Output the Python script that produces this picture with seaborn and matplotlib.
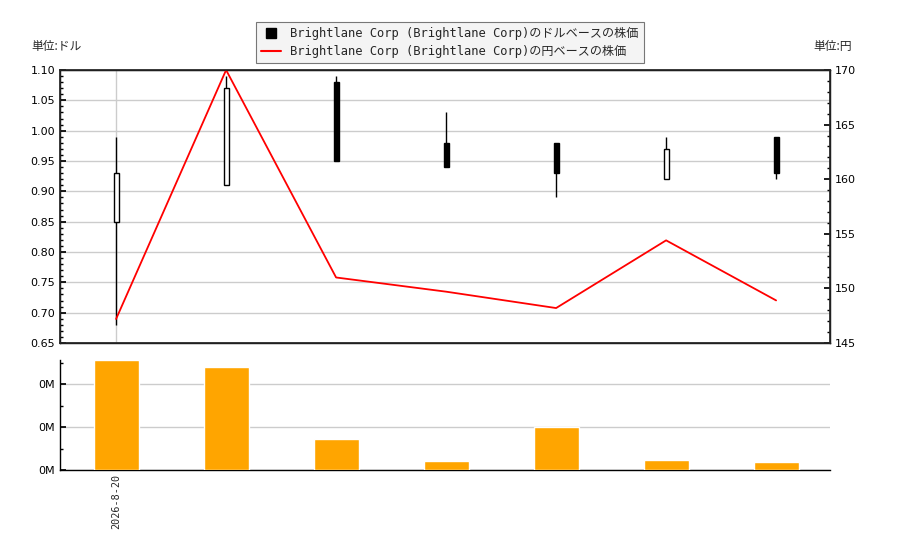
import matplotlib
matplotlib.use("Agg")
import matplotlib.pyplot as plt
from matplotlib.lines import Line2D
from matplotlib.ticker import MultipleLocator, AutoMinorLocator, FuncFormatter
import seaborn as sns
import pandas as pd
import numpy as np

# ---- data ----
idx = [0, 1, 2, 3, 4, 5, 6]
opens = [0.85, 0.91, 1.08, 0.98, 0.98, 0.92, 0.99]
highs = [0.99, 1.09, 1.09, 1.03, 0.98, 0.99, 0.99]
lows = [0.68, 0.91, 0.95, 0.94, 0.89, 0.92, 0.92]
closes = [0.93, 1.07, 0.95, 0.94, 0.93, 0.97, 0.93]
yen = [147.2, 170.0, 151.0, 149.7, 148.2, 154.4, 148.9]
volume = [256000, 240000, 72000, 21000, 100000, 23000, 19000]
tick_labels = ["2026-8-20"]
legend_usd = "Brightlane Corp (Brightlane Corp)のドルベースの株価"
legend_jpy = "Brightlane Corp (Brightlane Corp)の円ベースの株価"

df = pd.DataFrame({"idx": idx, "open": opens, "high": highs, "low": lows,
                   "close": closes, "yen": yen, "volume": volume})

sns.set_theme(style="white")
plt.rcParams['font.family'] = ['DejaVu Sans', 'Noto Sans CJK JP']
mono = ['DejaVu Sans Mono', 'Noto Sans CJK JP']
cjk = ['Noto Sans CJK JP', 'DejaVu Sans']

fig = plt.figure(figsize=(9, 5.5), dpi=100)
ax = fig.add_axes([60/900, 1-343/550, 770/900, 273/550])
axv = fig.add_axes([60/900, 1-470/550, 770/900, 110/550])

grid_c = '#cccccc'

# ---- candles ----
bw = 0.045
for _, r in df.iterrows():
    up = r["close"] >= r["open"]
    ax.vlines(r["idx"], r["low"], r["high"], color='black', lw=1, zorder=3)
    bottom = min(r["open"], r["close"])
    height = abs(r["close"] - r["open"])
    ax.bar(r["idx"], height, bottom=bottom, width=bw,
           color='white' if up else 'black', edgecolor='black', lw=1, zorder=4)

ax.set_xlim(-0.51, 6.49)
ax.set_ylim(0.65, 1.10)
ax.yaxis.set_major_locator(MultipleLocator(0.05))
ax.yaxis.set_minor_locator(MultipleLocator(0.01))
ax.yaxis.set_major_formatter(FuncFormatter(lambda v, p: f"{v:.2f}"))
ax.set_xticks([0])
ax.set_xticklabels([])
ax.grid(True, color=grid_c, lw=1)
ax.set_axisbelow(True)
ax.tick_params(axis='both', which='both', direction='in', labelsize=8, colors='black')
ax.tick_params(which='major', length=4)
ax.tick_params(which='minor', length=2, left=True)
for s in ax.spines.values():
    s.set_color('black'); s.set_linewidth(1)

# ---- yen line ----
ax2 = ax.twinx()
sns.lineplot(data=df, x="idx", y="yen", ax=ax2, color='red', lw=1.3)
ax2.set_ylim(145, 170)
ax2.set_xlim(-0.51, 6.49)
ax2.set_ylabel("")
ax2.set_xlabel("")
ax2.yaxis.set_major_locator(MultipleLocator(5))
ax2.yaxis.set_minor_locator(MultipleLocator(1))
ax2.tick_params(axis='y', which='both', direction='in', labelsize=8, colors='black')
ax2.tick_params(which='major', length=4)
ax2.tick_params(which='minor', length=2, right=True)
ax2.grid(False)
ax2.set_xticks([0]); ax2.set_xticklabels([])
ax2.tick_params(axis='x', length=0)

# ---- volume ----
sns.barplot(data=df, x="idx", y="volume", ax=axv, color='orange', saturation=1,
            width=0.41, zorder=3)
axv.set_xlim(-0.51, 6.49)
axv.set_ylim(0, max(volume))
axv.set_xlabel(""); axv.set_ylabel("")
axv.yaxis.set_major_locator(MultipleLocator(100000))
axv.yaxis.set_minor_locator(AutoMinorLocator(2))
axv.yaxis.set_major_formatter(FuncFormatter(lambda v, p: f"{v/1e6:.0f}M"))
axv.set_xticks([0])
axv.set_xticklabels(tick_labels, rotation=90, family=mono, fontsize=7.3)
axv.grid(True, axis='y', color=grid_c, lw=1)
axv.set_axisbelow(True)
axv.tick_params(axis='y', which='both', direction='in', labelsize=8, colors='black', left=True)
axv.tick_params(axis='y', which='major', length=4)
axv.tick_params(axis='y', which='minor', length=2)
axv.tick_params(axis='x', length=0, pad=3)
axv.spines['top'].set_visible(False)
axv.spines['right'].set_visible(False)
for s in ['left', 'bottom']:
    axv.spines[s].set_color('black'); axv.spines[s].set_linewidth(1)

# ---- legend & unit labels ----
handles = [Line2D([], [], marker='s', color='black', ls='none', markersize=7),
           Line2D([], [], color='red', lw=1.5)]
leg = fig.legend(handles, [legend_usd, legend_jpy], loc='upper center',
                 bbox_to_anchor=(0.5, 0.971), fancybox=False, framealpha=1,
                 edgecolor='#777777', facecolor='#f4f4f4',
                 prop={'family': mono, 'size': 8.7}, borderpad=0.4,
                 handlelength=1.6, labelspacing=0.45)
leg.get_frame().set_linewidth(0.8)

fig.text(31/900, 1-46.5/550, "単位:ドル", family=cjk, fontsize=8.5, va='center', ha='left')
fig.text(852/900, 1-46.5/550, "単位:円", family=cjk, fontsize=8.5, va='center', ha='right')

fig.savefig("out.png", dpi=100)
